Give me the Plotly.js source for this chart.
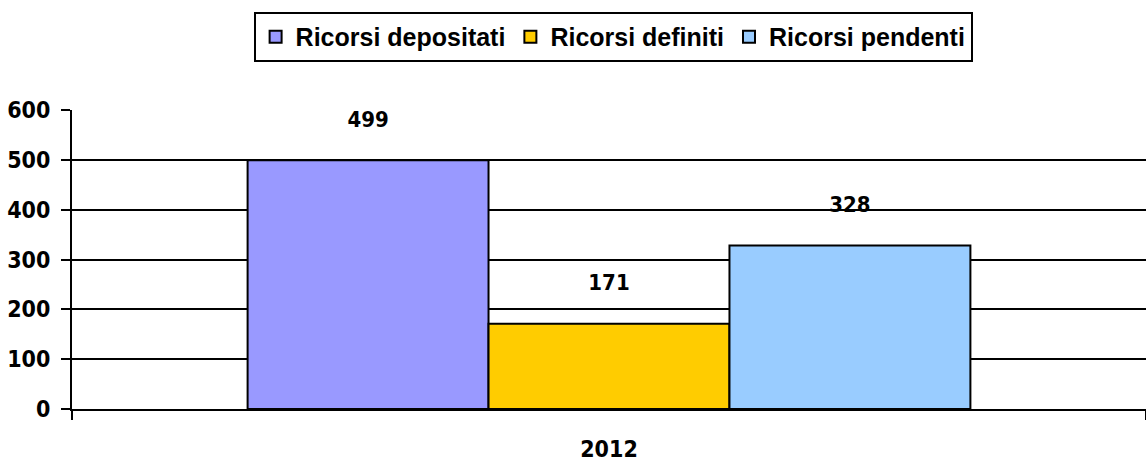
<!DOCTYPE html>
<html><head><meta charset="utf-8">
<script src="https://cdn.plot.ly/plotly-3.0.1.min.js"></script>
<style>html,body{margin:0;padding:0;background:#fff}#c{width:1146px;height:461px}</style>
</head><body><div id="c"></div>
<script>
const categories = ["2012"];
const seriesNames = ["Ricorsi depositati", "Ricorsi definiti", "Ricorsi pendenti"];
const depositati = [499];
const definiti = [171];
const pendenti = [328];
const colors = ["#9999FF", "#FFCC00", "#99CCFF"];
const yTicks = [0, 100, 200, 300, 400, 500, 600];

const narrow = '"DejaVu Sans Condensed", "Liberation Sans Narrow", sans-serif';
const values = [depositati, definiti, pendenti];
const traces = values.map((v, i) => ({
  type: 'bar', name: seriesNames[i], x: categories, y: v,
  marker: {color: colors[i], line: {color: '#000', width: 2}},
  text: v.map(String),
  texttemplate: '<b>%{text}</b><br><span style="font-size:8px"> </span>',
  textposition: 'outside', cliponaxis: false,
  textfont: {family: narrow, size: 22, color: '#000'},
  hoverinfo: 'none'
}));

const layout = {
  width: 1146, height: 461,
  margin: {l: 72, r: 0, t: 110, b: 52},
  paper_bgcolor: '#fff', plot_bgcolor: '#fff',
  barmode: 'group', bargap: 0.327, bargroupgap: 0,
  showlegend: true,
  legend: {orientation: 'h', xref: 'container', yref: 'container',
    x: 0.535, xanchor: 'center', y: 0.974, yanchor: 'top',
    bordercolor: '#000', borderwidth: 2, bgcolor: '#fff',
    font: {family: 'Arial, "Liberation Sans", sans-serif', size: 25, color: '#000', weight: 'bold'},
    itemwidth: 30, tracegroupgap: 0},
  xaxis: {type: 'category', showline: true, linecolor: '#000', linewidth: 2,
    ticks: 'outside', tickson: 'boundaries', ticklen: 9, tickwidth: 2, tickcolor: '#000',
    ticklabelstandoff: 18,
    tickfont: {family: narrow, size: 23, color: '#000', weight: 'bold'}, showgrid: false},
  yaxis: {range: [0, 600], tickvals: yTicks, ticktext: yTicks.map(String),
    showline: true, linecolor: '#000', linewidth: 2,
    ticks: 'outside', ticklen: 9, tickwidth: 2, tickcolor: '#000',
    ticklabelstandoff: 6,
    showgrid: true, gridcolor: '#000', gridwidth: 2, zeroline: false,
    tickfont: {family: narrow, size: 23, color: '#000', weight: 'bold'}}
};
Plotly.newPlot('c', traces, layout, {displayModeBar: false, staticPlot: true});
</script></body></html>
